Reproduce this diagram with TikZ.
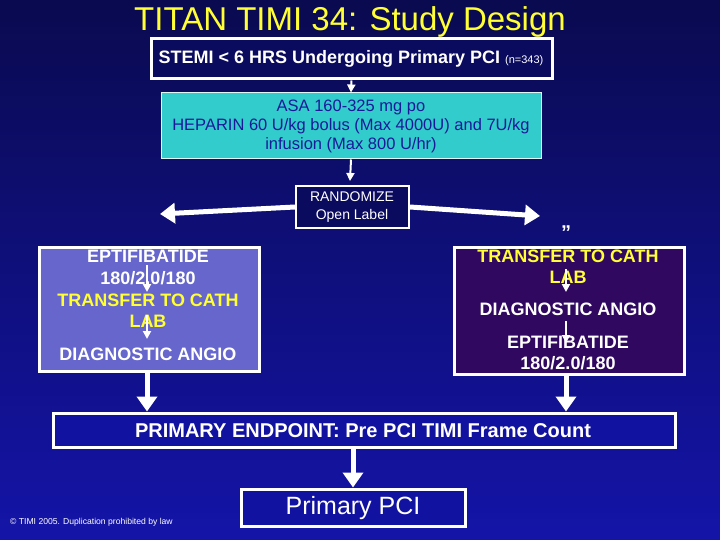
\documentclass[tikz,border=0pt]{standalone}
\usepackage{fontspec}
\setmainfont{Liberation Sans}
\usetikzlibrary{arrows.meta}
\definecolor{bgtop}{HTML}{0A0A50}
\definecolor{bgbot}{HTML}{1414A8}
\definecolor{navy}{HTML}{0A0A5E}
\definecolor{cyanbox}{HTML}{33CCCC}
\definecolor{cyantext}{HTML}{1A1A99}
\definecolor{slate}{HTML}{6666CC}
\definecolor{plum}{HTML}{300860}
\definecolor{endblue}{HTML}{1212A0}
\definecolor{ttl}{HTML}{FFFF33}
\definecolor{ylw}{HTML}{FFFF33}
\begin{document}
\begin{tikzpicture}[x=1pt,y=-1pt,
  wbox/.style={draw=white,line width=3pt,inner sep=0pt},
  thin arr/.style={white,line width=2pt,-{Triangle[width=8pt,length=8pt]}},
  thick arr/.style={white,line width=5pt,-{Triangle[width=20pt,length=15pt]}},
  line/.style={text=white,font=\fontsize{18}{20}\selectfont\bfseries,inner sep=0pt},
  yline/.style={line,text=ylw}]
\shade[top color=bgtop,bottom color=bgbot] (0,0) rectangle (720,540);
\useasboundingbox (0,0) rectangle (720,540);
% title
\node[text=ttl,font=\fontsize{33}{35}\selectfont] (title) at (350,22) {TITAN TIMI 34: Study Design};
% box 1
\node[wbox,fill=navy,minimum width=401pt,minimum height=40pt] (b1) at (351.5,59) {};
\node[text=white,inner sep=0pt] (b1t) at (351,59) {\fontsize{18}{20}\selectfont\bfseries STEMI < 6 HRS Undergoing Primary PCI \fontsize{11}{12}\selectfont\mdseries(n=343)};
% box 2
\node[draw=white!85!cyanbox,line width=1pt,fill=cyanbox,minimum width=380pt,minimum height=66pt,inner sep=0pt] (b2) at (351,126) {};
\node[text=cyantext,align=center,font=\fontsize{16.5}{19}\selectfont,inner sep=0pt] (b2t) at (351,126) {ASA 160-325 mg po\\HEPARIN 60 U/kg bolus (Max 4000U) and 7U/kg\\infusion (Max 800 U/hr)};
\draw[thin arr] (b1.south) -- (b2.north);
% randomize
\node[draw=white,line width=2pt,fill=navy,minimum width=113pt,minimum height=42pt,inner sep=0pt] (rnd) at (352.5,207) {};
\node[text=white,align=center,font=\fontsize{14}{18}\selectfont,inner sep=0pt] (rndt) at (352,207) {RANDOMIZE\\Open Label};
\coordinate (rtop) at (350,181);
\draw[thin arr] (b2.south) -- (rtop);
\coordinate (la) at (160,214);
\coordinate (ra) at (540,216);
\draw[thick arr] (rnd.west) -- (la);
\draw[thick arr] (rnd.east) -- (ra);
\node[text=white,font=\fontsize{20}{22}\selectfont\bfseries] (q) at (566,233) {”};
% left box
\node[wbox,fill=slate,minimum width=220pt,minimum height=124pt] (lb) at (149,309) {};
\node[line] (l1) at (148,256) {EPTIFIBATIDE};
\node[line] (l2) at (148,278) {180/2.0/180};
\node[yline] (l3) at (148,300) {TRANSFER TO CATH};
\node[yline] (l4) at (148,321) {LAB};
\node[line] (l5) at (148,354) {DIAGNOSTIC ANGIO};
\coordinate (la1) at (147,265); \coordinate (la2) at (147,292);
\coordinate (la3) at (147,315); \coordinate (la4) at (147,339);
\draw[thin arr] (la1) -- (la2);
\draw[thin arr] (la3) -- (la4);
% right box
\node[wbox,fill=plum,minimum width=230pt,minimum height=127pt] (rb) at (569,310.5) {};
\node[yline] (r1) at (568,256) {TRANSFER TO CATH};
\node[yline] (r2) at (568,277) {LAB};
\node[line] (r3) at (568,309) {DIAGNOSTIC ANGIO};
\node[line] (r4) at (568,342) {EPTIFIBATIDE};
\node[line] (r5) at (568,363) {180/2.0/180};
\coordinate (ra1) at (566,269); \coordinate (ra2) at (566,292);
\coordinate (ra3) at (566,321); \coordinate (ra4) at (566,343);
\draw[thin arr] (ra1) -- (ra2);
\draw[thin arr] (ra3) -- (ra4);
% endpoint
\node[wbox,fill=endblue,minimum width=622pt,minimum height=34pt] (ep) at (364,430) {};
\node[text=white,font=\fontsize{20}{22}\selectfont\bfseries,inner sep=0pt] (ept) at (363,431) {PRIMARY ENDPOINT: Pre PCI TIMI Frame Count};
\draw[thick arr] (lb.south -| la1) -- (ep.north -| la1);
\draw[thick arr] (rb.south -| ra1) -- (ep.north -| ra1);
% primary PCI
\node[wbox,fill=endblue,minimum width=224pt,minimum height=37pt] (pci) at (353,507.5) {};
\node[text=white,font=\fontsize{25}{27}\selectfont,inner sep=0pt] (pcit) at (353,508) {Primary PCI};
\draw[thick arr] (ep.south -| pci) -- (pci.north);
% copyright
\node[text=white,font=\fontsize{8.6}{10}\selectfont,anchor=west,inner sep=0pt] (copy) at (10,522) {© TIMI 2005. Duplication prohibited by law};
\end{tikzpicture}
\end{document}
